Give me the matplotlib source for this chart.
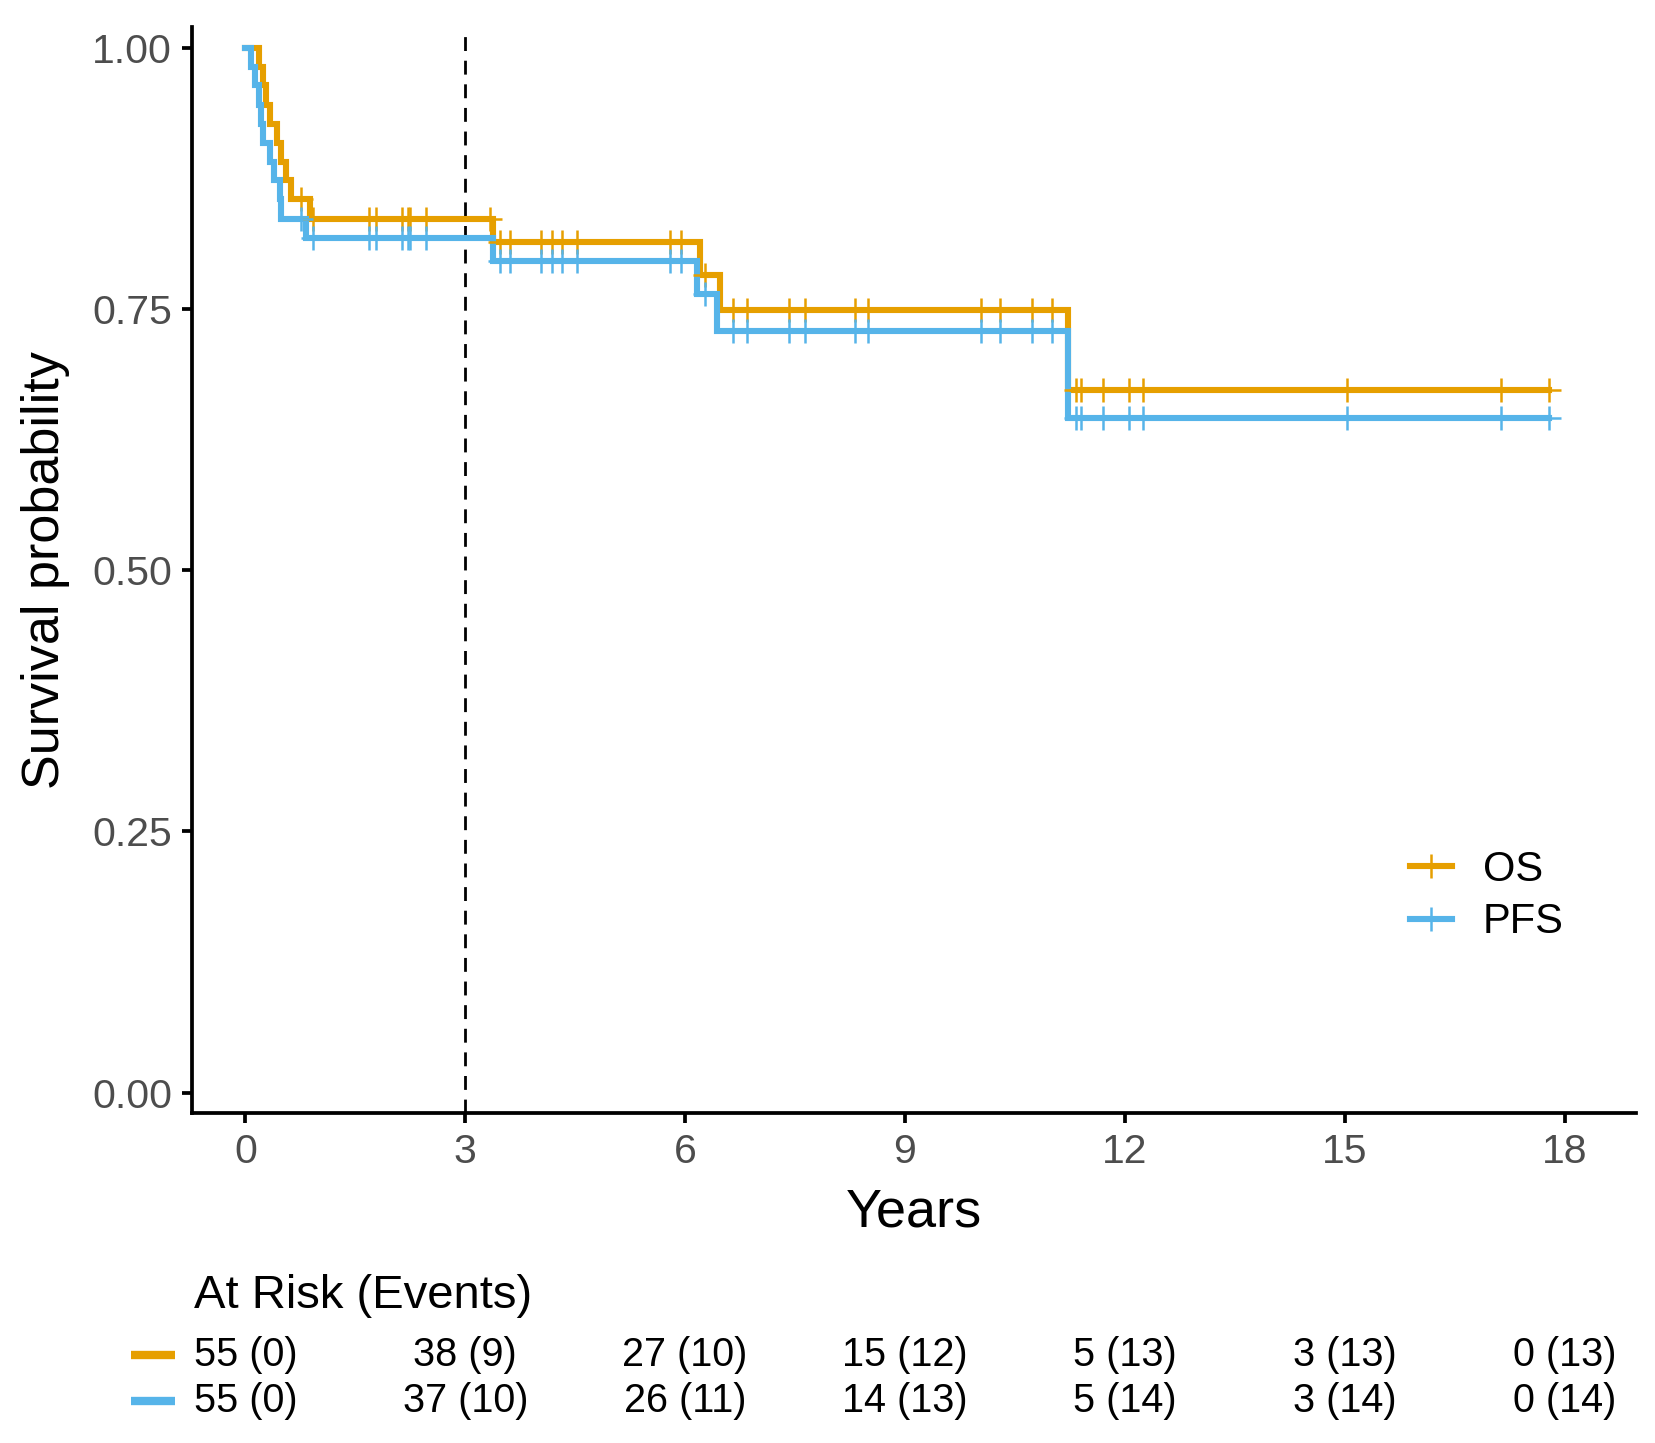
import numpy as np
import matplotlib
matplotlib.use('Agg')
import matplotlib.pyplot as plt
from matplotlib.lines import Line2D
from matplotlib.transforms import blended_transform_factory

plt.rcParams['font.family'] = ['Liberation Sans', 'DejaVu Sans']

# step curves (time in years, survival after the step)
os_time = [0, 0.19, 0.24, 0.28, 0.33, 0.43, 0.49, 0.56, 0.62, 0.88, 3.38, 6.20, 6.47, 11.22, 17.78]
os_surv = [1.0, 0.982, 0.964, 0.945, 0.927, 0.909, 0.891, 0.873, 0.855, 0.836, 0.814, 0.783, 0.749, 0.672, 0.672]
os_cens = [0.76, 0.925, 1.685, 1.78, 2.14, 2.22, 2.25, 2.47, 3.335, 3.47, 3.61, 4.03, 4.18, 4.32,
           4.53, 5.79, 5.94, 6.27, 6.65, 6.85, 7.42, 7.63, 8.32, 8.5, 10.03, 10.29, 10.73, 11.0,
           11.33, 11.4, 11.7, 12.05, 12.25, 15.03, 17.13, 17.78]

pfs_time = [0, 0.08, 0.125, 0.18, 0.21, 0.24, 0.34, 0.39, 0.47, 0.49, 0.83, 3.38, 6.16, 6.43, 11.22, 17.78]
pfs_surv = [1.0, 0.982, 0.964, 0.945, 0.927, 0.909, 0.891, 0.873, 0.855, 0.836, 0.818, 0.796, 0.764, 0.729, 0.646, 0.646]
pfs_cens = [0.76, 0.925, 1.685, 1.78, 2.14, 2.22, 2.25, 2.47, 3.47, 3.61, 4.03, 4.18, 4.32,
            4.53, 5.79, 5.94, 6.27, 6.65, 6.85, 7.42, 7.63, 8.32, 8.5, 10.03, 10.29, 10.73, 11.0,
            11.33, 11.4, 11.7, 12.05, 12.25, 15.03, 17.13, 17.78]

# risk table
risk_times = [0, 3, 6, 9, 12, 15, 18]
os_at_risk = [55, 38, 27, 15, 5, 3, 0]
os_events = [0, 9, 10, 12, 13, 13, 13]
pfs_at_risk = [55, 37, 26, 14, 5, 3, 0]
pfs_events = [0, 10, 11, 13, 14, 14, 14]

ORANGE = '#E69F00'
BLUE = '#56B4E9'


def step_value(times, surv, t):
    idx = np.searchsorted(times, t, side='right') - 1
    return np.asarray(surv)[idx]


fig = plt.figure(figsize=(16.56, 14.43), dpi=100)
ax = fig.add_axes([0.1161, 0.2288, 0.8717, 0.7528])
ax.set_xlim(-0.725, 18.97)
ax.set_ylim(-0.0193, 1.0203)

ax.axvline(3, color='black', lw=2.0, ls=(0, (5, 3.5)), zorder=1)

for t, s, c, col in [(os_time, os_surv, os_cens, ORANGE), (pfs_time, pfs_surv, pfs_cens, BLUE)]:
    ax.step(t, s, where='post', color=col, lw=4.4, solid_joinstyle='miter', zorder=2)
for t, s, c, col in [(os_time, os_surv, os_cens, ORANGE), (pfs_time, pfs_surv, pfs_cens, BLUE)]:
    ax.plot(c, step_value(t, s, c), ls='none', marker='+', ms=17, mew=1.8, color=col, zorder=3)

for side in ['top', 'right']:
    ax.spines[side].set_visible(False)
for side in ['left', 'bottom']:
    ax.spines[side].set_linewidth(2.7)
    ax.spines[side].set_color('black')

ax.set_xticks(risk_times)
ax.set_yticks([0, 0.25, 0.5, 0.75, 1.0])
ax.set_yticklabels(['0.00', '0.25', '0.50', '0.75', '1.00'])
ax.tick_params(length=7.5, width=2.7, labelsize=29.5, labelcolor='#4d4d4d', pad=7)

handles = [Line2D([], [], color=ORANGE, lw=4.4, marker='+', ms=17, mew=1.8),
           Line2D([], [], color=BLUE, lw=4.4, marker='+', ms=17, mew=1.8)]
ax.legend(handles, ['OS', 'PFS'], loc='center left', bbox_to_anchor=(0.8515, 0.379),
          bbox_transform=fig.transFigure, frameon=False, fontsize=30, handlelength=1.0,
          handletextpad=0.75, labelspacing=0.3, borderpad=0, borderaxespad=0)

fig.text(0.552, 0.1597, 'Years', ha='center', va='center', fontsize=39)
fig.text(0.0276, 0.605, 'Survival probability', rotation=90, ha='center', va='center', fontsize=37.5)

# at risk table under the plot
fig.text(0.1174, 0.102, 'At Risk (Events)', ha='left', va='center', fontsize=34)
trans = blended_transform_factory(ax.transData, fig.transFigure)
for row_y, n, e, col in [(0.061, os_at_risk, os_events, ORANGE), (0.029, pfs_at_risk, pfs_events, BLUE)]:
    for t, a, b in zip(risk_times, n, e):
        fig.text(t, row_y, f'{a} ({b})', transform=trans, ha='center', va='center', fontsize=28.5)
    fig.add_artist(Line2D([0.0789, 0.1058], [row_y, row_y], transform=fig.transFigure,
                          color=col, lw=6, solid_capstyle='butt'))

fig.savefig('out.png', dpi=100)
